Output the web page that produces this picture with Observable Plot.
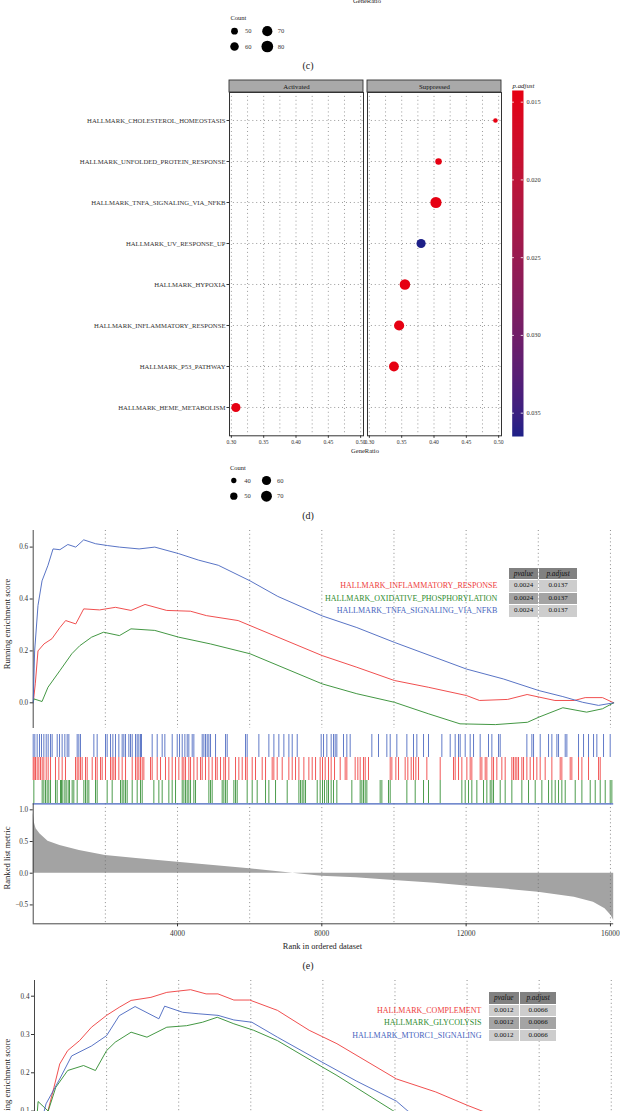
<!DOCTYPE html>
<html><head><meta charset="utf-8">
<script src="https://cdn.jsdelivr.net/npm/d3@7"></script>
<script src="https://cdn.jsdelivr.net/npm/@observablehq/plot@0.6"></script>
<style>
html,body{margin:0;padding:0;background:#fff;}
#wrap{position:relative;width:620px;height:1111px;overflow:hidden;font-family:"Liberation Serif","DejaVu Serif",serif;color:#222;}
.abs{position:absolute;left:0;}
.abs svg{display:block;}
.lbl{position:absolute;white-space:nowrap;line-height:1;font-family:"Liberation Serif","DejaVu Serif",serif;}
table.gt{position:absolute;border-collapse:separate;font-family:"Liberation Serif","DejaVu Serif",serif;}
table.gt td{height:11.5px;padding:0;box-sizing:border-box;text-align:center;font-size:7px;line-height:11.5px;color:#111;white-space:nowrap;}
table.gt td.h{background:#818181;font-style:italic;font-size:7.3px;}
table.gt td.l{background:#cdcdcd;}
table.gt td.d{background:#a4a4a4;}
table.gt td.n{text-align:right;font-size:8px;}
</style></head><body><div id="wrap"></div>
<script>
// ---------------- data ----------------
// (c) fragment (only its size legend is visible)
const countLegendC = [50, 60, 70, 80];
// (d) dot plot
const categoriesD = ["HALLMARK_CHOLESTEROL_HOMEOSTASIS","HALLMARK_UNFOLDED_PROTEIN_RESPONSE","HALLMARK_TNFA_SIGNALING_VIA_NFKB","HALLMARK_UV_RESPONSE_UP","HALLMARK_HYPOXIA","HALLMARK_INFLAMMATORY_RESPONSE","HALLMARK_P53_PATHWAY","HALLMARK_HEME_METABOLISM"];
const groupD = ["Suppressed","Suppressed","Suppressed","Suppressed","Suppressed","Suppressed","Suppressed","Activated"];
const geneRatioD = [0.495, 0.407, 0.403, 0.380, 0.355, 0.346, 0.338, 0.307];
const countD = [37, 46, 72, 60, 68, 66, 64, 60];
const pAdjustD = [0.0143, 0.0143, 0.0143, 0.0365, 0.0143, 0.0143, 0.0143, 0.0143];
const facetsD = ["Activated", "Suppressed"];
const ratioDomainD = [0.2971, 0.5044];
const ratioTicksD = [0.30, 0.35, 0.40, 0.45, 0.50];
const ratioGridD = [0.30, 0.325, 0.35, 0.375, 0.40, 0.425, 0.45, 0.475, 0.50];
const pAdjustRange = [0.01425, 0.0365];
const pAdjustTicks = [0.015, 0.020, 0.025, 0.030, 0.035];
const countLegendD = [40, 50, 60, 70];

// (e) GSEA
const setsE = ["HALLMARK_INFLAMMATORY_RESPONSE","HALLMARK_OXIDATIVE_PHOSPHORYLATION","HALLMARK_TNFA_SIGNALING_VIA_NFKB"];
const pvalueE = ["0.0024","0.0024","0.0024"];
const padjE = ["0.0137","0.0137","0.0137"];
const rankMaxE = 16090;
const gridRanks = [2000,4000,6000,8000,10000,12000,14000,16000];
const rankTicks = [4000,8000,12000,16000];
const esTicksE = [0, 0.2, 0.4, 0.6];
const esDomainE = [-0.099, 0.664];
const ranksInflamE = [0,58,133,300,520,740,900,1180,1400,1840,2280,2710,3100,3700,4360,4800,5680,6230,8010,8970,10010,10950,12010,12370,13150,13690,14460,15000,15300,15780,16090];
const esInflamE = [0,0.073,0.2,0.227,0.247,0.29,0.317,0.304,0.362,0.358,0.368,0.356,0.379,0.356,0.353,0.336,0.317,0.285,0.182,0.137,0.086,0.06,0.028,0.009,0.013,0.032,0.009,0.009,0.02,0.02,0.0];
const ranksOxphosE = [0,20,245,410,740,1070,1290,1620,1950,2390,2710,3370,4030,4910,6010,8010,8970,10010,10950,11830,12810,13700,14020,14680,15340,15780,16090];
const esOxphosE = [0,0.015,0.005,0.06,0.124,0.189,0.22,0.253,0.272,0.259,0.285,0.279,0.253,0.227,0.189,0.073,0.035,0.002,-0.042,-0.081,-0.084,-0.075,-0.055,-0.019,-0.036,-0.023,0.0];
const ranksTnfaE = [0,40,133,245,410,550,740,960,1180,1400,1730,2060,2390,2935,3370,4030,4580,5130,6010,6780,8010,8970,10010,12010,13030,14020,14680,15230,15670,16090];
const esTnfaE = [0,0.2,0.375,0.47,0.53,0.593,0.59,0.61,0.6,0.628,0.613,0.606,0.6,0.593,0.6,0.575,0.55,0.53,0.47,0.41,0.335,0.29,0.233,0.13,0.092,0.047,0.024,0.002,-0.01,0.0];
const rugTnfaE = [0,45,110,175,230,295,360,415,480,525,665,730,802,877,942,988,1219,1265,1311,1681,1773,2004,2050,2143,2208,2281,2374,2466,2512,2559,2651,2697,2744,2836,2882,2928,2974,3002,3298,3437,3575,3649,3853,3992,4056,4130,4204,4269,4314,4407,4453,4684,4730,4776,4823,4869,4915,5054,5331,5377,5885,5931,6255,6532,6671,6809,6948,7087,7179,7318,7982,8047,8139,8259,8324,8370,8416,8601,8693,8786,9386,9571,9802,9895,10079,10357,10541,10634,10819,10957,11327,11558,11696,11789,11835,11974,12112,12205,12389,12620,12713,12898,12944,13683,13822,13868,14053,14284,14376,14515,14561,14746,14792,15115,15254,15392,15531,15623,15808,15993];
const rugInflamE = [0,27,64,110,156,202,249,295,360,415,480,618,711,803,895,1173,1219,1265,1311,1357,1450,1496,1635,1727,1773,1866,1912,2004,2143,2189,2235,2281,2374,2466,2559,2744,2836,2882,2928,2974,3021,3067,3252,3298,3437,3529,3667,3760,3852,3945,4037,4130,4176,4222,4314,4361,4453,4545,4638,4684,4776,4869,4961,5054,5100,5192,5284,5331,5423,5608,5700,5793,5885,5931,6070,6162,6347,6440,6624,6670,6763,6902,7086,7179,7271,7364,7502,7641,7733,7826,7954,8019,8093,8185,8259,8352,8509,8647,8693,8924,8998,9063,9155,9202,9294,9895,9941,10052,10126,10310,10384,10477,10541,10606,10680,10911,11281,11650,11696,11789,11881,12020,12112,12158,12389,12436,12528,12574,12713,12759,12851,12990,13082,13267,13313,13360,13406,13452,13544,13591,13683,13775,13868,13960,14052,14191,14376,14607,14653,14884,14930,15115,15208,15392,15670,15716];
const rugOxphosE = [18,249,295,341,387,433,480,618,664,757,784,821,877,914,969,1006,1080,1126,1219,1404,1450,1496,1542,1727,1773,2050,2189,2420,2466,2512,2559,2605,2744,2882,2974,3021,3344,3483,3575,3760,3852,3945,4130,4176,4222,4268,4314,4361,4453,4499,4869,4915,4961,5238,5284,5331,5377,5562,5608,5654,5931,6070,6208,6440,6532,6717,7040,7364,7410,7456,7502,7548,7872,7954,8019,8074,8139,8185,8259,8324,8416,8832,9063,9109,9155,9202,9248,9617,9664,9848,9895,10357,10588,10819,10957,11281,11881,11974,12066,12158,12297,12482,12574,12667,12713,12759,12944,13082,13267,13544,13729,13914,14099,14284,14376,14469,14561,14653,14746,15023,15208,15439,15578,15716,15855,15993,16039];
const metricRanksE = [0,30,80,190,410,740,1280,2000,2930,4000,5000,6000,7200,8000,8950,10000,11140,12000,13000,14000,15000,15530,15850,16020,16090];
const metricValuesE = [0.95,0.8,0.7,0.62,0.505,0.437,0.358,0.28,0.227,0.174,0.12,0.07,0.0,-0.047,-0.073,-0.115,-0.158,-0.2,-0.246,-0.3,-0.378,-0.457,-0.56,-0.667,-0.746];
const metricDomainE = [-0.798, 1.095];
const metricTicksE = [-0.5, 0, 0.5, 1.0];

// (f) GSEA (top part only visible)
const setsF = ["HALLMARK_COMPLEMENT","HALLMARK_GLYCOLYSIS","HALLMARK_MTORC1_SIGNALING"];
const pvalueF = ["0.0012","0.0012","0.0012"];
const padjF = ["0.0066","0.0066","0.0066"];
const esDomainF = [-0.076, 0.441];
const esTicksF = [0, 0.1, 0.2, 0.3, 0.4];
const ranksComplF = [0,372,540,700,920,1250,1580,2000,2350,2680,3230,3670,4330,4760,5090,5530,5970,6740,7620,8390,10040,11130,12010,12500,13500];
const esComplF = [0,0.1,0.162,0.223,0.258,0.284,0.319,0.35,0.371,0.389,0.397,0.41,0.417,0.406,0.406,0.39,0.39,0.363,0.311,0.276,0.184,0.15,0.115,0.097,0.06];
const ranksGlycF = [0,100,380,590,920,1360,1690,2000,2240,2680,3120,3670,4220,4660,5070,5530,6080,6740,7840,8390,9930,10500];
const esGlycF = [0,0.125,0.1,0.162,0.206,0.219,0.206,0.258,0.28,0.306,0.293,0.319,0.323,0.332,0.345,0.328,0.311,0.284,0.223,0.193,0.102,0.07];
const ranksMtorF = [0,320,700,1030,1580,2000,2350,2790,3450,3610,4110,4560,5090,5530,6030,6740,7840,8940,10040,10360,11000];
const esMtorF = [0,0.119,0.184,0.244,0.27,0.297,0.349,0.373,0.341,0.374,0.358,0.354,0.35,0.338,0.332,0.293,0.235,0.178,0.126,0.1,0.07];

// ---------------- helpers ----------------
const RED = "#ee3b3b", GREEN = "#2e8b2e", BLUE = "#4664be";
const FONT = '"Liberation Serif", "DejaVu Serif", serif';
const baseStyle = {fontFamily: FONT, fontSize: "6.5px", color: "#333", background: "none", overflow: "visible"};
const wrap = document.getElementById("wrap");
function place(node, top) {
  const d = document.createElement("div");
  d.className = "abs"; d.style.top = top + "px";
  d.appendChild(node); wrap.appendChild(d);
}
function label(text, x, y, o = {}) {
  const d = document.createElement("div");
  d.className = "lbl"; d.textContent = text;
  d.style.left = x + "px"; d.style.top = y + "px";
  d.style.fontSize = (o.size || 6.5) + "px";
  if (o.italic) d.style.fontStyle = "italic";
  if (o.color) d.style.color = o.color;
  const tx = o.anchor === "start" ? "0" : "-50%";
  d.style.transform = `translate(${tx},-50%)` + (o.rotate ? " rotate(-90deg)" : "");
  wrap.appendChild(d);
}
const dotted = {stroke: "#6a6a6a", strokeWidth: 0.75, strokeDasharray: "0.9,3"};
const gridDots = {stroke: "#707070", strokeWidth: 0.8, strokeDasharray: "1,2.8"};
const fmt1 = d => (d < 0 ? "\u2212" : "") + Math.abs(d).toFixed(1);

// ---------------- (c) fragment ----------------
label("GeneRatio", 367, 1, {size: 6.5});
label("Count", 230.4, 18.3, {anchor: "start", size: 6.5});
function countLegend(values, rScale, xr, yr) {
  return Plot.plot({
    width: 620, height: 36, marginTop: yr[0], marginBottom: 36 - yr[1],
    marginLeft: xr[0], marginRight: 620 - xr[1],
    style: baseStyle,
    x: {domain: [0, 1], axis: null}, y: {domain: [0, 1], reverse: true, axis: null},
    r: rScale,
    marks: [
      Plot.dot(values, {x: (d, i) => Math.floor(i / 2), y: (d, i) => i % 2, r: d => d, fill: "#000"}),
      Plot.text(values, {x: (d, i) => Math.floor(i / 2), y: (d, i) => i % 2, text: d => String(d), dx: 10.5, textAnchor: "start", fontSize: 6.5, fill: "#333"})
    ]
  });
}
place(countLegend(countLegendC, {type: "sqrt", domain: [48, 82], range: [3.2, 6]}, [234, 266.8], [10.7, 26]), 20);
label("(c)", 308, 65.7, {size: 10});

// ---------------- (d) dot plot ----------------
const colorD = {type: "linear", domain: pAdjustRange, range: ["#e60012", "#1d2088"], interpolate: d3.interpolateLab};
const rD = {type: "sqrt", domain: [d3.min(countD), d3.max(countD)], range: [2.3, 5.6]};
const dotData = categoriesD.map((name, i) => ({name, group: groupD[i], ratio: geneRatioD[i], count: countD[i], padj: pAdjustD[i]}));

place(Plot.plot({
  width: 620, height: 15, marginTop: 1, marginBottom: 2, marginLeft: 229, marginRight: 118,
  style: baseStyle,
  x: {type: "band", domain: facetsD, paddingInner: 0.026, paddingOuter: 0, axis: null},
  marks: [
    Plot.cell(facetsD, {x: d => d, fill: "#a9a9a9", stroke: "#333", strokeWidth: 0.9, inset: 0}),
    Plot.text(facetsD, {x: d => d, text: d => d, fontSize: 6.8, fill: "#111"})
  ]
}), 79);

place(Plot.plot({
  width: 620, height: 369.3, marginTop: 4, marginBottom: 22, marginLeft: 229, marginRight: 118,
  style: baseStyle,
  fx: {domain: facetsD, paddingInner: 0.026, paddingOuter: 0, axis: null, label: null},
  x: {domain: ratioDomainD, axis: null},
  y: {type: "point", domain: categoriesD, padding: 0.6, axis: null},
  r: rD, color: colorD,
  marks: [
    Plot.ruleX(ratioGridD, dotted),
    Plot.ruleY(categoriesD, dotted),
    Plot.dot(dotData, {x: "ratio", y: "name", fx: "group", r: "count", fill: "padj"}),
    Plot.frame({stroke: "#333", strokeWidth: 1}),
    Plot.axisY({facetAnchor: "left", tickSize: 2.5, tickPadding: 1.5, fontSize: 6.7, label: null}),
    Plot.axisX({facetAnchor: "bottom", ticks: ratioTicksD, tickFormat: d => d.toFixed(2), tickSize: 2.5, tickPadding: 1.5, fontSize: 5.6, label: null})
  ]
}), 88);

label("p.adjust", 512.6, 85.5, {anchor: "start", italic: true, size: 6.8});
place(Plot.plot({
  width: 620, height: 356, marginTop: 6, marginBottom: 4, marginLeft: 511.7, marginRight: 97,
  style: baseStyle,
  x: {domain: [0, 1], axis: null},
  y: {domain: pAdjustRange, reverse: true, axis: null},
  color: colorD,
  marks: [
    Plot.raster({fill: (x, y) => y, x1: 0, x2: 1, y1: pAdjustRange[0], y2: pAdjustRange[1], width: 2, height: 300, imageRendering: "auto"}),
    Plot.ruleY(pAdjustTicks, {x1: 0, x2: 0.2, stroke: "white", strokeWidth: 0.8}),
    Plot.ruleY(pAdjustTicks, {x1: 0.8, x2: 1, stroke: "white", strokeWidth: 0.8}),
    Plot.axisY({ticks: pAdjustTicks, anchor: "right", tickSize: 0, tickPadding: 3, tickFormat: d => d.toFixed(3), fontSize: 6.3, label: null})
  ]
}), 84);

label("GeneRatio", 365, 450.7, {size: 6.5});
label("Count", 230, 468.3, {anchor: "start", size: 6.5});
place(countLegend(countLegendD, rD, [233.3, 266], [10, 25.7]), 470);
label("(d)", 308, 515.7, {size: 10});

// ---------------- (e) GSEA ----------------
const colorE = {domain: setsE, range: [RED, GREEN, BLUE]};
const esE = [
  ...ranksInflamE.map((r, i) => ({set: setsE[0], rank: r, es: esInflamE[i]})),
  ...ranksOxphosE.map((r, i) => ({set: setsE[1], rank: r, es: esOxphosE[i]})),
  ...ranksTnfaE.map((r, i) => ({set: setsE[2], rank: r, es: esTnfaE[i]}))
];
const rugE = [
  ...rugTnfaE.map(r => ({set: setsE[2], rank: r})),
  ...rugInflamE.map(r => ({set: setsE[0], rank: r})),
  ...rugOxphosE.map(r => ({set: setsE[1], rank: r}))
];
const metricE = metricRanksE.map((r, i) => ({rank: r, metric: metricValuesE[i]}));

function esPanel(data, color, yDomain, yTicks, mL, mR, xMax) {
  return Plot.plot({
    width: 620, height: 208, marginTop: 8, marginBottom: 2, marginLeft: mL, marginRight: mR,
    style: baseStyle,
    x: {domain: [0, xMax], axis: null},
    y: {domain: yDomain, axis: null},
    color,
    marks: [
      Plot.ruleX(gridRanks, gridDots),
      Plot.ruleX([0], {stroke: "#333", strokeWidth: 0.9}),
      Plot.line(data, {x: "rank", y: "es", z: "set", stroke: "set", strokeWidth: 0.9}),
      Plot.axisY({ticks: yTicks, tickFormat: fmt1, tickSize: 3, tickPadding: 2, fontSize: 7.2, label: null})
    ]
  });
}
place(esPanel(esE, colorE, esDomainE, esTicksE, 32.7, 6.8, rankMaxE), 522);

place(Plot.plot({
  width: 620, height: 75, marginTop: 2.3, marginBottom: 3.3, marginLeft: 32.7, marginRight: 6.8,
  style: baseStyle,
  x: {domain: [0, rankMaxE], axis: null},
  y: {type: "band", domain: [setsE[2], setsE[0], setsE[1]], padding: 0, axis: null},
  color: colorE,
  marks: [
    Plot.tickX(rugE, {x: "rank", y: "set", stroke: "set", strokeWidth: 1, strokeOpacity: 0.85})
  ]
}), 731);

place(Plot.plot({
  width: 620, height: 143.3, marginTop: 3.3, marginBottom: 20, marginLeft: 32.7, marginRight: 6.8,
  style: baseStyle,
  x: {domain: [0, rankMaxE], axis: null},
  y: {domain: metricDomainE, axis: null},
  marks: [
    Plot.areaY(metricE, {x: "rank", y: "metric", fill: "#a3a3a3"}),
    Plot.ruleX(gridRanks, gridDots),
    Plot.ruleY([metricDomainE[1]], {stroke: BLUE, strokeWidth: 1.3}),
    Plot.ruleX([0], {stroke: "#333", strokeWidth: 0.9}),
    Plot.ruleY([metricDomainE[0]], {stroke: "#333", strokeWidth: 0.9}),
    Plot.axisY({ticks: metricTicksE, tickFormat: fmt1, tickSize: 3, tickPadding: 2, fontSize: 7.2, label: null}),
    Plot.axisX({ticks: rankTicks, tickFormat: d => String(d), tickSize: 3, tickPadding: 3.5, fontSize: 7.5, label: null})
  ]
}), 800);

label("Running enrichment score", 7, 623.5, {rotate: true, size: 8.6});
label("Ranked list metric", 6.5, 858, {rotate: true, size: 8.6});
label("Rank in ordered dataset", 322.5, 947.3, {size: 8.4});
label("(e)", 308, 965.7, {size: 10});

function gseaTable(left, top, nameW, colW, names, colors, pv, pa, padR) {
  const t = document.createElement("table");
  t.className = "gt";
  t.style.left = left + "px"; t.style.top = top + "px";
  t.style.borderSpacing = "1.6px";
  let html = `<tr><td style="width:${nameW}px"></td><td class="h" style="width:${colW[0]}px">pvalue</td><td class="h" style="width:${colW[1]}px">p.adjust</td></tr>`;
  names.forEach((n, i) => {
    const cls = i % 2 === 0 ? "l" : "d";
    html += `<tr><td class="n" style="width:${nameW}px;padding-right:${padR}px;color:${colors[i]}">${n}</td><td class="${cls}">${pv[i]}</td><td class="${cls}">${pa[i]}</td></tr>`;
  });
  t.innerHTML = html;
  wrap.appendChild(t);
}
gseaTable(290, 566.7, 216.8, [29.5, 37.5], setsE, [RED, GREEN, BLUE], pvalueE, padjE, 10.4);

// ---------------- (f) GSEA (top part) ----------------
const colorF = {domain: setsF, range: [RED, GREEN, BLUE]};
const esF = [
  ...ranksComplF.map((r, i) => ({set: setsF[0], rank: r, es: esComplF[i]})),
  ...ranksGlycF.map((r, i) => ({set: setsF[1], rank: r, es: esGlycF[i]})),
  ...ranksMtorF.map((r, i) => ({set: setsF[2], rank: r, es: esMtorF[i]}))
];
place(esPanel(esF, colorF, esDomainF, esTicksF, 34, 6, rankMaxE), 972);
gseaTable(280, 991.4, 206.8, [30, 36.5], setsF, [RED, GREEN, BLUE], pvalueF, padjF, 6.4);
label("Running enrichment score", 6.5, 1083.5, {rotate: true, size: 8.6});
</script></body></html>
